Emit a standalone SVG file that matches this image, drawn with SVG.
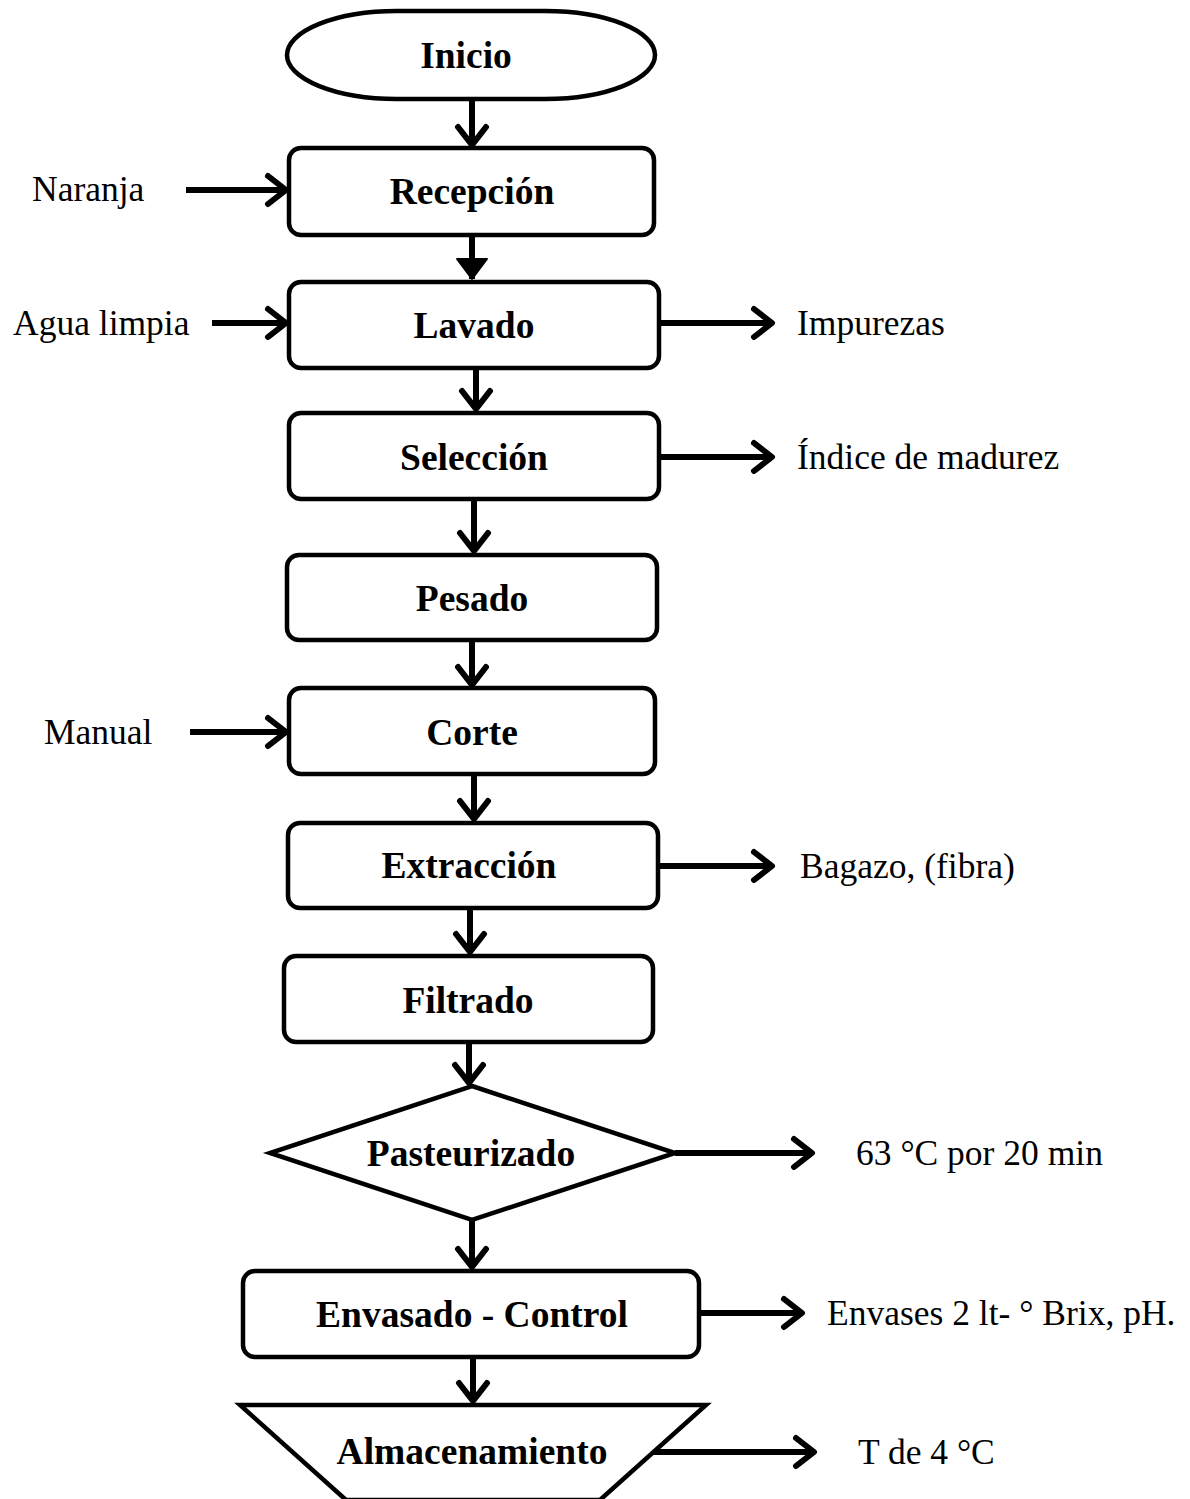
<svg xmlns="http://www.w3.org/2000/svg" width="1190" height="1499" viewBox="0 0 1190 1499">
<style>
.box{fill:#fff;stroke:#000;stroke-width:4.5;}
.lbl{font-family:"Liberation Serif","Times New Roman",serif;font-weight:bold;font-size:37.5px;fill:#000;text-anchor:middle;}
.side{font-family:"Liberation Serif","Times New Roman",serif;font-size:35.5px;fill:#000;}
.conn{stroke:#000;stroke-width:6;fill:none;}
</style>
<defs>
<marker id="chev" markerUnits="userSpaceOnUse" markerWidth="40" markerHeight="40" viewBox="-25 -20 30 40" refX="0" refY="0" orient="auto">
<path d="M-18,-14 L0,0 L-18,14" fill="none" stroke="#000" stroke-width="6" stroke-linecap="round" stroke-linejoin="round"/>
</marker>
<marker id="tri" markerUnits="userSpaceOnUse" markerWidth="40" markerHeight="40" viewBox="-25 -20 30 40" refX="0" refY="0" orient="auto">
<path d="M-20,-15 L0,0 L-20,15 Z" fill="#000" stroke="#000" stroke-width="2" stroke-linejoin="round"/>
</marker>
</defs>
<g id="connectors">
<line class="conn" x1="472" y1="100" x2="472" y2="145" marker-end="url(#chev)"/>
<line class="conn" x1="472" y1="235" x2="472" y2="279" marker-end="url(#tri)"/>
<line class="conn" x1="476" y1="368" x2="476" y2="409" marker-end="url(#chev)"/>
<line class="conn" x1="474" y1="499" x2="474" y2="551" marker-end="url(#chev)"/>
<line class="conn" x1="472" y1="640" x2="472" y2="685" marker-end="url(#chev)"/>
<line class="conn" x1="474" y1="774" x2="474" y2="819" marker-end="url(#chev)"/>
<line class="conn" x1="470" y1="908" x2="470" y2="952" marker-end="url(#chev)"/>
<line class="conn" x1="469" y1="1042" x2="469" y2="1083" marker-end="url(#chev)"/>
<line class="conn" x1="472" y1="1220" x2="472" y2="1267" marker-end="url(#chev)"/>
<line class="conn" x1="473" y1="1357" x2="473" y2="1401" marker-end="url(#chev)"/>
<line class="conn" x1="186" y1="190" x2="286" y2="190" marker-end="url(#chev)"/>
<line class="conn" x1="212" y1="323" x2="286" y2="323" marker-end="url(#chev)"/>
<line class="conn" x1="190" y1="732" x2="286" y2="732" marker-end="url(#chev)"/>
<line class="conn" x1="659" y1="323" x2="772" y2="323" marker-end="url(#chev)"/>
<line class="conn" x1="659" y1="457" x2="772" y2="457" marker-end="url(#chev)"/>
<line class="conn" x1="658" y1="866" x2="772" y2="866" marker-end="url(#chev)"/>
<line class="conn" x1="675" y1="1153" x2="812" y2="1153" marker-end="url(#chev)"/>
<line class="conn" x1="699" y1="1313" x2="802" y2="1313" marker-end="url(#chev)"/>
<line class="conn" x1="652" y1="1452" x2="814" y2="1452" marker-end="url(#chev)"/>
</g>
<g id="inicio"><rect class="box" x="287" y="11" width="368" height="88" rx="110" ry="44"/><text class="lbl" x="466" y="68">Inicio</text></g>
<g id="recepcion"><rect class="box" x="289" y="148" width="365" height="87" rx="12"/><text class="lbl" x="472" y="204">Recepción</text></g>
<g id="lavado"><rect class="box" x="289" y="282" width="370" height="86" rx="12"/><text class="lbl" x="474" y="338">Lavado</text></g>
<g id="seleccion"><rect class="box" x="289" y="413" width="370" height="86" rx="12"/><text class="lbl" x="474" y="470">Selección</text></g>
<g id="pesado"><rect class="box" x="287" y="555" width="370" height="85" rx="12"/><text class="lbl" x="472" y="611">Pesado</text></g>
<g id="corte"><rect class="box" x="289" y="688" width="366" height="86" rx="12"/><text class="lbl" x="472" y="745">Corte</text></g>
<g id="extraccion"><rect class="box" x="288" y="823" width="370" height="85" rx="12"/><text class="lbl" x="469" y="878">Extracción</text></g>
<g id="filtrado"><rect class="box" x="284" y="956" width="369" height="86" rx="12"/><text class="lbl" x="468" y="1013">Filtrado</text></g>
<g id="pasteurizado"><polygon class="box" points="472,1086 675,1153 472,1220 270,1153"/><text class="lbl" x="471" y="1166">Pasteurizado</text></g>
<g id="envasado"><rect class="box" x="243" y="1271" width="456" height="86" rx="12"/><text class="lbl" x="472" y="1327">Envasado - Control</text></g>
<g id="almacenamiento"><polygon class="box" points="240,1405 706,1405 600,1500 346,1500"/><text class="lbl" x="472" y="1464">Almacenamiento</text></g>
<g id="labels">
<text class="side" x="32" y="201">Naranja</text>
<text class="side" x="13" y="335">Agua limpia</text>
<text class="side" x="44" y="744">Manual</text>
<text class="side" x="797" y="335">Impurezas</text>
<text class="side" x="797" y="469">Índice de madurez</text>
<text class="side" x="800" y="878">Bagazo, (fibra)</text>
<text class="side" x="856" y="1165">63 °C por 20 min</text>
<text class="side" x="827" y="1325">Envases 2 lt- ° Brix, pH.</text>
<text class="side" x="858" y="1464">T de 4 °C</text>
</g>
</svg>
